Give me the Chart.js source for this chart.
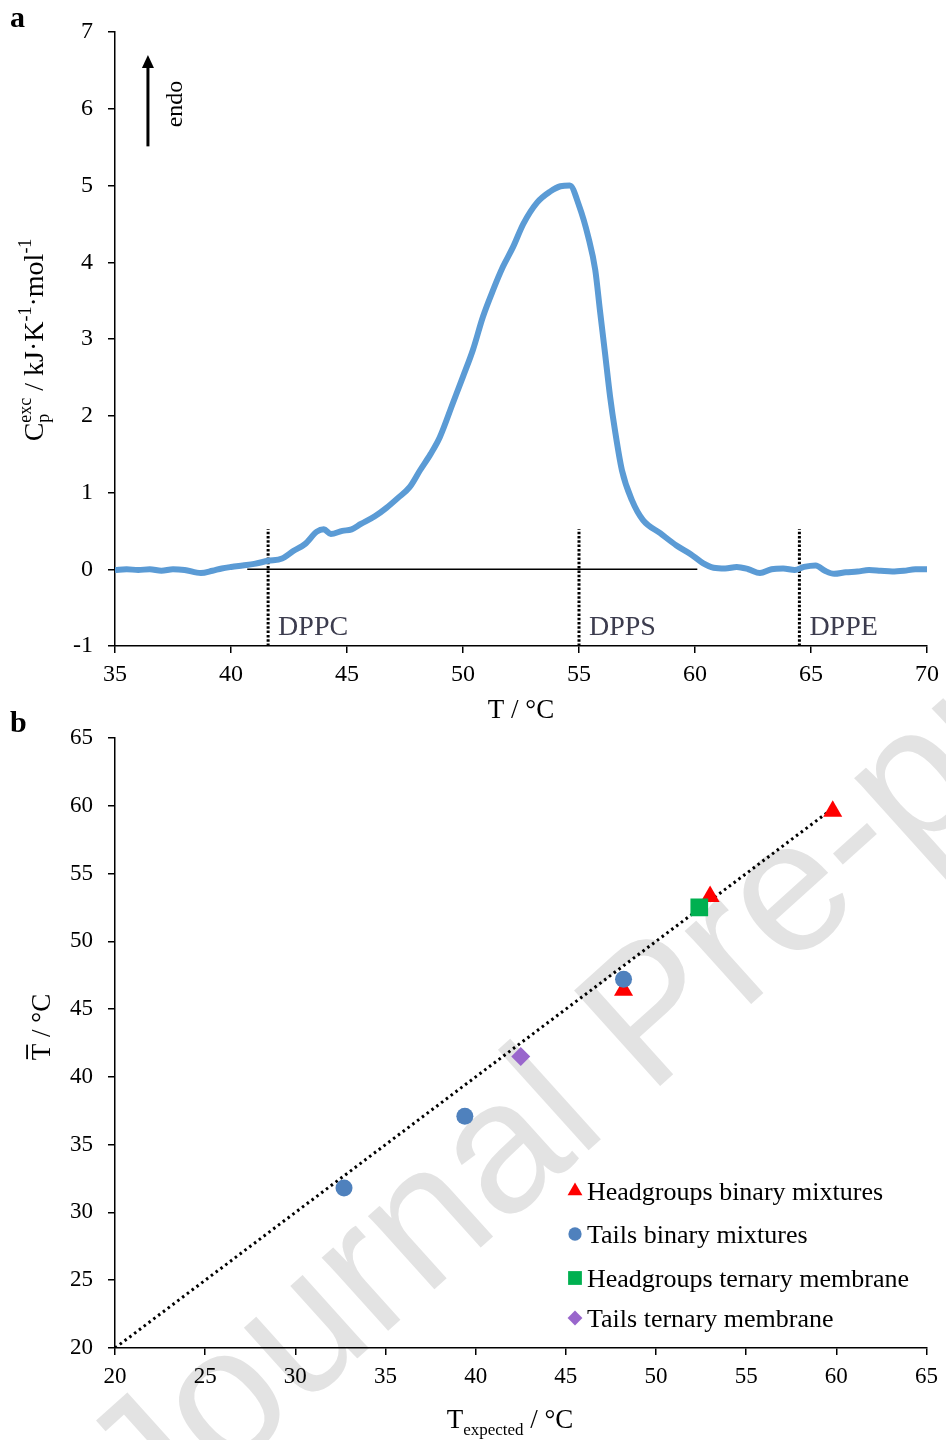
<!DOCTYPE html>
<html>
<head>
<meta charset="utf-8">
<script src="https://cdn.jsdelivr.net/npm/chart.js@4.4.0/dist/chart.umd.min.js"></script>
<style>
  body { margin: 0; background: #fff; }
  #pagina { position: relative; width: 946px; height: 1440px; overflow: hidden; }
  #marca {
    position: absolute; left: 648px; top: 1010px;
    transform: translate(-50%, -50%) rotate(-42deg);
    font: 187px "Liberation Sans", Arial, sans-serif;
    color: #e3e3e3; white-space: nowrap;
  }
  canvas { position: absolute; left: 0; }
  #graficoA { top: 0; }
  #graficoB { top: 695px; }
</style>
</head>
<body>
<div id="pagina">
  <div id="marca">Journal Pre-proof</div>
  <canvas id="graficoA" width="946" height="730"></canvas>
  <canvas id="graficoB" width="946" height="745"></canvas>
</div>
<script>
// Datos del panel a (curva DSC)
const temperaturas = [35.0,35.5,36.0,36.5,37.0,37.5,38.0,38.7,39.2,39.6,40.0,40.5,41.0,41.6,42.2,42.7,43.2,43.7,44.0,44.3,44.8,45.2,45.6,46.2,46.7,47.2,47.7,48.15,48.6,49.0,49.57,50.0,50.43,50.86,51.3,51.72,52.16,52.6,53.2,53.75,54.2,54.6,55.0,55.4,55.7,55.9,56.12,56.34,56.55,56.85,57.28,57.76,58.5,59.2,59.8,60.34,60.8,61.3,61.8,62.3,62.8,63.3,63.8,64.3,64.7,65.2,65.6,66.0,66.5,67.0,67.5,68.0,68.5,69.0,69.5,70.0];
const cpExceso = [-0.01,0.0,-0.01,0.0,-0.02,0.0,-0.01,-0.05,-0.02,0.01,0.03,0.05,0.07,0.11,0.14,0.24,0.33,0.49,0.52,0.46,0.5,0.52,0.59,0.69,0.8,0.93,1.07,1.29,1.5,1.72,2.17,2.51,2.86,3.29,3.64,3.94,4.2,4.5,4.78,4.92,4.99,5.0,4.74,4.33,3.9,3.38,2.82,2.25,1.81,1.29,0.9,0.64,0.47,0.31,0.2,0.08,0.02,0.01,0.03,0.0,-0.05,0.0,0.01,-0.01,0.03,0.05,-0.02,-0.06,-0.04,-0.03,-0.01,-0.02,-0.03,-0.02,0.0,0.0];
const lineaBaseT = [40.7, 60.1];
const lineaBaseCp = [0, 0];
const lipidosT = [41.6, 55.0, 64.5];
const lipidosNombres = ['DPPC', 'DPPS', 'DPPE'];
const lipidosCpMin = -1;
const lipidosCpMax = 0.52;
const ticksTempA = [35, 40, 45, 50, 55, 60, 65, 70];
const ticksCpA = [-1, 0, 1, 2, 3, 4, 5, 6, 7];

// Datos del panel b
const serieNombres = ['Headgroups binary mixtures', 'Tails binary mixtures', 'Headgroups ternary membrane', 'Tails ternary membrane'];
const cabezasBinX = [48.2, 53.0, 59.8];
const cabezasBinY = [46.4, 53.3, 59.6];
const colasBinX = [32.7, 39.4, 48.2];
const colasBinY = [31.8, 37.1, 47.2];
const cabezasTerX = [52.4];
const cabezasTerY = [52.5];
const colasTerX = [42.5];
const colasTerY = [41.5];
const identidadX = [20, 59.6];
const identidadY = [20, 59.6];
const ticksTempB = [20, 25, 30, 35, 40, 45, 50, 55, 60, 65];

const fuente = '"Liberation Serif", "Times New Roman", serif';
const azulCurva = '#5b9bd5';

function puntos(xs, ys) {
    return xs.map((x, i) => ({ x: x, y: ys[i] }));
}

// Dibuja texto con sub/superindices; partes: {t, tam, dy, sobre, barra}
function textoCompuesto(ctx, partes, x, y, rot) {
    ctx.save();
    ctx.translate(x, y);
    if (rot) ctx.rotate(rot);
    let pos = 0, inicioPrev = 0;
    const colocadas = partes.map(p => {
        ctx.font = p.tam + 'px ' + fuente;
        const w = ctx.measureText(p.t).width;
        const inicio = p.sobre ? inicioPrev : pos;
        inicioPrev = inicio;
        pos = Math.max(pos, inicio + w);
        return { p: p, inicio: inicio, w: w };
    });
    const total = pos;
    ctx.fillStyle = '#000';
    ctx.textAlign = 'left';
    ctx.textBaseline = 'alphabetic';
    colocadas.forEach(c => {
        ctx.font = c.p.tam + 'px ' + fuente;
        const px = c.inicio - total / 2;
        ctx.fillText(c.p.t, px, c.p.dy || 0);
        if (c.p.barra) {
            ctx.fillRect(px + 1, -c.p.tam * 0.66 - 6, c.w - 2, 1.8);
        }
    });
    ctx.restore();
}

function ejeComun(ticks, tam, relleno) {
    return {
        type: 'linear',
        afterBuildTicks: s => { s.ticks = ticks.map(v => ({ value: v })); },
        border: { display: true, color: '#000', width: 1.5 },
        grid: { display: true, drawOnChartArea: false, drawTicks: true, tickLength: 7, color: '#000', lineWidth: 1.5 },
        ticks: { color: '#000', padding: relleno, font: { family: fuente, size: tam } }
    };
}

// Panel a
const extrasA = {
    id: 'extrasA',
    afterDraw(chart) {
        const ctx = chart.ctx;
        const sx = chart.scales.x, sy = chart.scales.y;
        ctx.save();
        // etiquetas de los lipidos
        ctx.fillStyle = '#3c3c4e';
        ctx.font = '28px ' + fuente;
        ctx.textAlign = 'left';
        ctx.textBaseline = 'alphabetic';
        lipidosT.forEach((t, i) => {
            ctx.fillText(lipidosNombres[i], sx.getPixelForValue(t) + 10, sy.getPixelForValue(-0.86));
        });
        // flecha endo
        const xa = sx.getPixelForValue(36.42);
        const yBase = sy.getPixelForValue(5.51), yPunta = sy.getPixelForValue(6.7);
        ctx.strokeStyle = '#000';
        ctx.fillStyle = '#000';
        ctx.lineWidth = 3;
        ctx.beginPath();
        ctx.moveTo(xa, yBase);
        ctx.lineTo(xa, yPunta + 10);
        ctx.stroke();
        ctx.beginPath();
        ctx.moveTo(xa, yPunta);
        ctx.lineTo(xa - 6, yPunta + 13);
        ctx.lineTo(xa + 6, yPunta + 13);
        ctx.closePath();
        ctx.fill();
        ctx.restore();
        textoCompuesto(ctx, [{ t: 'endo', tam: 24 }], 182, 104, -Math.PI / 2);
        // titulos de ejes
        textoCompuesto(ctx, [
            { t: 'C', tam: 28 },
            { t: 'p', tam: 18, dy: 6 },
            { t: 'exc', tam: 18, dy: -12, sobre: true },
            { t: ' / kJ·K', tam: 28 },
            { t: '-1', tam: 18, dy: -12 },
            { t: '·mol', tam: 28 },
            { t: '-1', tam: 18, dy: -12 }
        ], 43, 340, -Math.PI / 2);
        textoCompuesto(ctx, [{ t: 'T / °C', tam: 27 }], (chart.chartArea.left + chart.chartArea.right) / 2, 718);
        ctx.save();
        ctx.font = 'bold 30px ' + fuente;
        ctx.fillStyle = '#000';
        ctx.fillText('a', 10, 27);
        ctx.restore();
    }
};

const datasetsA = [
    {
        data: puntos(temperaturas, cpExceso),
        showLine: true, borderColor: azulCurva, borderWidth: 6, pointRadius: 0,
        cubicInterpolationMode: 'monotone', order: 0
    },
    {
        data: puntos(lineaBaseT, lineaBaseCp),
        showLine: true, borderColor: '#000', borderWidth: 1.5, pointRadius: 0, order: 2
    }
];
lipidosT.forEach(t => {
    datasetsA.push({
        data: [{ x: t, y: lipidosCpMin }, { x: t, y: lipidosCpMax }],
        showLine: true, borderColor: '#000', borderWidth: 3, borderDash: [2.5, 1.8],
        pointRadius: 0, order: 1
    });
});

const ejeXA = ejeComun(ticksTempA, 24, 7);
ejeXA.min = 35; ejeXA.max = 70;
ejeXA.afterFit = s => { s.height = 84; };
const ejeYA = ejeComun(ticksCpA, 24, 15);
ejeYA.min = -1; ejeYA.max = 7;
ejeYA.afterFit = s => { s.width = 115; };

new Chart(document.getElementById('graficoA'), {
    type: 'scatter',
    data: { datasets: datasetsA },
    options: {
        responsive: false, animation: false, devicePixelRatio: 1, events: [],
        layout: { autoPadding: false, padding: { top: 32, right: 16, left: 0, bottom: 0 } },
        plugins: { legend: { display: false }, tooltip: { enabled: false } },
        scales: { x: ejeXA, y: ejeYA }
    },
    plugins: [extrasA]
});

// Panel b
const estilosB = [
    { color: '#ff0000', forma: 'triangle', radio: 11 },
    { color: '#4f81bd', forma: 'circle', radio: 8.5 },
    { color: '#00b050', forma: 'rect', radio: 12.5 },
    { color: '#9966cc', forma: 'rectRot', radio: 9.5 }
];
const seriesB = [
    puntos(cabezasBinX, cabezasBinY),
    puntos(colasBinX, colasBinY),
    puntos(cabezasTerX, cabezasTerY),
    puntos(colasTerX, colasTerY)
];

const extrasB = {
    id: 'extrasB',
    afterDraw(chart) {
        const ctx = chart.ctx;
        // leyenda
        const filas = [505, 548, 592, 632];
        ctx.save();
        serieNombres.forEach((nombre, i) => {
            const e = estilosB[i];
            ctx.fillStyle = e.color;
            ctx.strokeStyle = e.color;
            ctx.lineWidth = 0;
            Chart.helpers.drawPoint(ctx, { pointStyle: e.forma, radius: e.radio * 0.78, borderWidth: 0, rotation: 0 }, 575, filas[i] - 9);
            ctx.fillStyle = '#000';
            ctx.font = '26px ' + fuente;
            ctx.textAlign = 'left';
            ctx.textBaseline = 'alphabetic';
            ctx.fillText(nombre, 587, filas[i]);
        });
        ctx.font = 'bold 30px ' + fuente;
        ctx.fillText('b', 10, 37);
        ctx.restore();
        textoCompuesto(ctx, [
            { t: 'T', tam: 27 },
            { t: 'expected', tam: 17, dy: 7 },
            { t: ' / °C', tam: 27 }
        ], 510, 733);
        textoCompuesto(ctx, [
            { t: 'T', tam: 27, barra: true },
            { t: ' / °C', tam: 27 }
        ], 50, 332, -Math.PI / 2);
    }
};

const datasetsB = [{
    data: puntos(identidadX, identidadY),
    showLine: true, borderColor: '#000', borderWidth: 3, borderDash: [2.5, 3.5],
    pointRadius: 0, order: 10
}];
seriesB.forEach((datos, i) => {
    const e = estilosB[i];
    datasetsB.push({
        label: serieNombres[i],
        data: datos,
        pointStyle: e.forma, pointRadius: e.radio, pointBorderWidth: 0,
        backgroundColor: e.color, borderColor: e.color,
        order: 5 - i
    });
});

const ejeXB = ejeComun(ticksTempB, 23, 8);
ejeXB.min = 20; ejeXB.max = 65;
ejeXB.afterFit = s => { s.height = 92; };
const ejeYB = ejeComun(ticksTempB, 23, 15);
ejeYB.min = 20; ejeYB.max = 65;
ejeYB.afterFit = s => { s.width = 115; };

new Chart(document.getElementById('graficoB'), {
    type: 'scatter',
    data: { datasets: datasetsB },
    options: {
        responsive: false, animation: false, devicePixelRatio: 1, events: [],
        layout: { autoPadding: false, padding: { top: 43, right: 16, left: 0, bottom: 0 } },
        plugins: { legend: { display: false }, tooltip: { enabled: false } },
        scales: { x: ejeXB, y: ejeYB }
    },
    plugins: [extrasB]
});
</script>
</body>
</html>
